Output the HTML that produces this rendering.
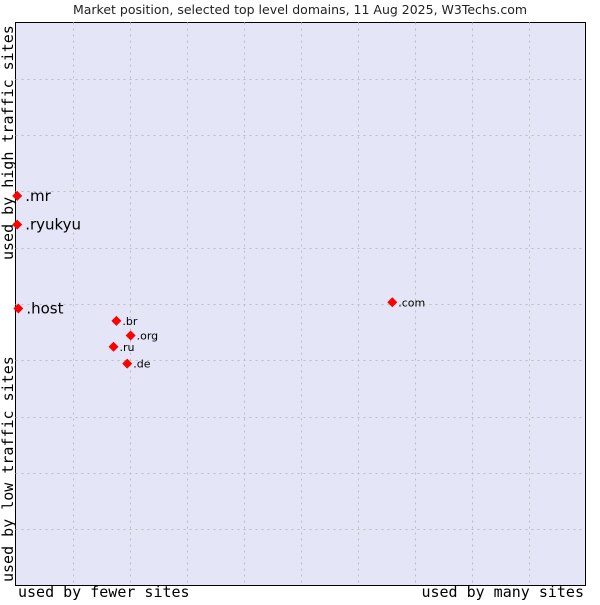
<!DOCTYPE html>
<html><head><meta charset="utf-8"><style>
body{margin:0;background:#fff;}
svg text{font-family:"DejaVu Sans","Liberation Sans",sans-serif;}
</style></head><body>
<svg width="600" height="600" viewBox="0 0 600 600">
<text x="300" y="14" text-anchor="middle" font-size="12.5" fill="#222">Market position, selected top level domains, 11 Aug 2025, W3Techs.com</text>
<rect x="15.5" y="22.5" width="570" height="563" fill="#e4e6f8" stroke="#000" stroke-width="1"/>
<g id="grid"></g>
<text transform="translate(13,260) rotate(-90)" font-size="15" fill="#000" style="font-family:'DejaVu Sans Mono',monospace">used by high traffic sites</text>
<text transform="translate(13,582) rotate(-90)" font-size="15" fill="#000" style="font-family:'DejaVu Sans Mono',monospace">used by low traffic sites</text>
<text x="18" y="597" font-size="15" fill="#000" style="font-family:'DejaVu Sans Mono',monospace">used by fewer sites</text>
<text x="584" y="597" text-anchor="end" font-size="15" fill="#000" style="font-family:'DejaVu Sans Mono',monospace">used by many sites</text>
<g id="points"></g>
</svg>
<script>
const domains=[".mr",".ryukyu",".host",".com",".br",".org",".ru",".de"];
const usageX=[0.3,0.3,0.5,66.1,17.7,20.2,17.2,19.6];
const trafficY=[69.2,64.1,49.2,50.3,47.0,44.4,42.4,39.4];
const bigLabel=[true,true,true,false,false,false,false,false];
const ns="http://www.w3.org/2000/svg";
const L=15.5,T=22.5,W=570,H=563;
function sx(v){return L+v/100*W;}
function sy(v){return T+H-v/100*H;}
const grid=document.getElementById('grid');
for(let i=1;i<10;i++){
  const gx=document.createElementNS(ns,'line');
  
  
  const x=Math.round(sx(i*10))+0.5;
  gx.setAttribute('x1',x);gx.setAttribute('x2',x);gx.setAttribute('y1',T);gx.setAttribute('y2',T+H);
  gx.setAttribute('stroke','#bdbdbd');gx.setAttribute('stroke-dasharray','2,4');
  grid.appendChild(gx);
  const gy=document.createElementNS(ns,'line');
  
  
  const y=Math.round(sy(i*10))+0.5;
  gy.setAttribute('x1',L);gy.setAttribute('x2',L+W);gy.setAttribute('y1',y);gy.setAttribute('y2',y);
  gy.setAttribute('stroke','#bdbdbd');gy.setAttribute('stroke-dasharray','2,4');
  grid.appendChild(gy);
}
const pts=document.getElementById('points');
domains.forEach((d,i)=>{
  const x=sx(usageX[i]),y=sy(trafficY[i]);
  const m=document.createElementNS(ns,'polygon');
  
  
  m.setAttribute('points',`${x},${y-5} ${x+5},${y} ${x},${y+5} ${x-5},${y}`);
  m.setAttribute('fill','#ff0000');
  pts.appendChild(m);
  const t=document.createElementNS(ns,'text');
  
  
  t.setAttribute('x',x+(bigLabel[i]?8:6));
  t.setAttribute('y',y+(bigLabel[i]?5:4));
  t.setAttribute('font-size',bigLabel[i]?15:11);
  t.setAttribute('fill','#000');
  t.textContent=d;
  pts.appendChild(t);
});
</script>
</body></html>
